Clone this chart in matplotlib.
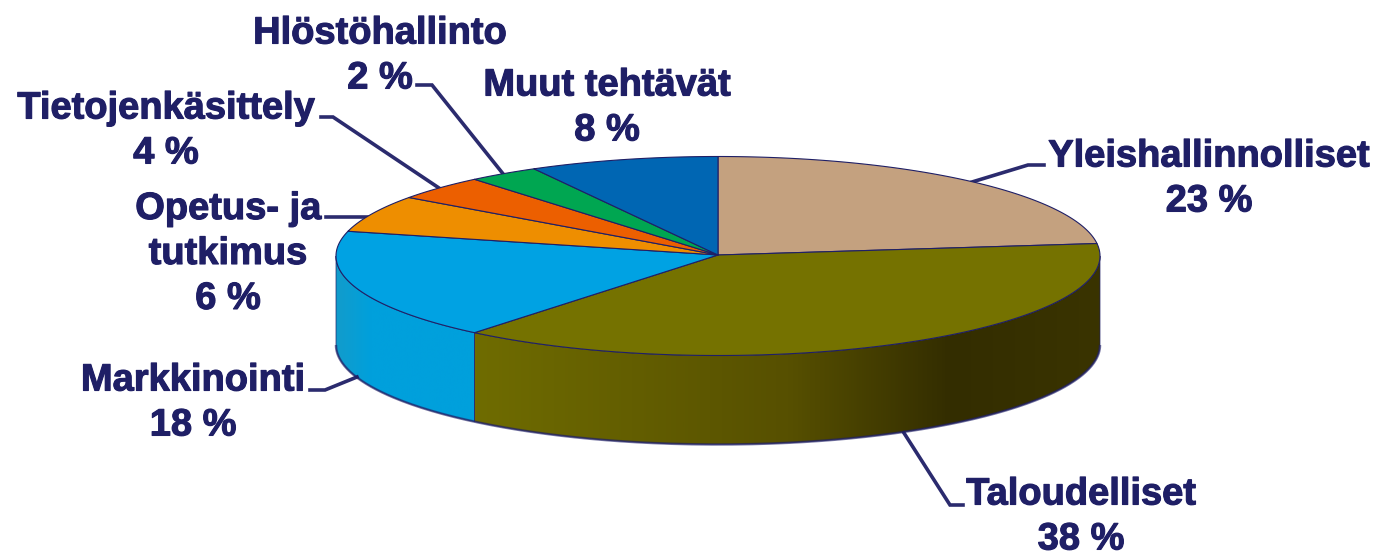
import numpy as np
import matplotlib
matplotlib.use('Agg')
import matplotlib.pyplot as plt
from matplotlib.patches import Polygon
from matplotlib.colors import LinearSegmentedColormap
import matplotlib.patheffects as pe

names = ['Yleishallinnolliset', 'Taloudelliset', 'Markkinointi', 'Opetus- ja\ntutkimus',
         'Tietojenkäsittely', 'Hlöstöhallinto', 'Muut tehtävät']
# drawn size of the slices, the printed labels are rounded differently (2 % slice looks like 3)
slice_sizes = [23, 38, 18, 6, 4, 3, 8]
printed_pct = [23, 38, 18, 6, 4, 2, 8]
top_colors = ['#c4a17f', '#757200', '#00a2e3', '#ee8e00', '#ec5f00', '#00a651', '#0066b3']

text_col = '#1f1f66'

# pie geometry in pixels
cx, cy = 718, 256
rx, ry = 382, 99.5
depth = 89

# label centres and leader lines, pixels
label_pos = [(1209, 179), (1081, 517), (193, 403), (228, 254), (166, 131), (380, 56), (607, 108)]
leaders = [[(972, 182), (1028, 165), (1044, 165)],
           [(904, 433), (950, 505), (963, 505)],
           [(357, 377), (325, 390), (310, 390)],
           [(368, 217), (326, 217)],
           [(439, 188), (333, 117), (321, 117)],
           [(504, 175), (432, 85), (417, 85)]]


def rim(a):
    # a = degrees clockwise from 12 o'clock
    r = np.radians(a)
    return cx + rx * np.sin(r), cy - ry * np.cos(r)


fig = plt.figure(figsize=(13.77, 5.55), dpi=100)
ax = fig.add_axes([0, 0, 1, 1])

edges = np.cumsum([0] + slice_sizes) / sum(slice_sizes) * 360

# side wall, only olive and light blue slices are on the front
olive = LinearSegmentedColormap.from_list('olive', [(0, '#6f6c00'), (0.5, '#575000'), (0.76, '#332d00'), (1, '#3a3400')])
blue = LinearSegmentedColormap.from_list('blue', [(0, '#129ccb'), (0.25, '#00a0dc'), (1, '#00a0dc')])
sides = [(1, olive), (2, blue)]
for i, cmap in sides:
    a = np.linspace(max(edges[i], 90), min(edges[i + 1], 270), 200)
    xs, ys = rim(a)
    pts = np.vstack([np.column_stack([xs, ys]), np.column_stack([xs[::-1], ys[::-1] + depth])])
    poly = Polygon(pts, closed=True, fc='none', ec='none')
    ax.add_patch(poly)
    grad = np.linspace(0, 1, 512).reshape(1, -1)
    im = ax.imshow(grad, cmap=cmap, extent=[xs.min(), xs.max(), cy + ry + depth, cy - ry],
                   aspect='auto', zorder=1)
    im.set_clip_path(poly)
    ax.add_patch(Polygon(pts, closed=True, fc='none', ec=text_col, lw=0.7, alpha=0.7, zorder=2))

# dark lower edge of the wall
a = np.linspace(90, 270, 300)
xs, ys = rim(a)
ax.plot(xs, ys + depth, color=text_col, lw=1.8, alpha=0.6, zorder=2, solid_capstyle='butt')

# top face
for i, col in enumerate(top_colors):
    a = np.linspace(edges[i], edges[i + 1], 120)
    xs, ys = rim(a)
    pts = np.vstack([[cx, cy - 1], np.column_stack([xs, ys])])
    ax.add_patch(Polygon(pts, closed=True, fc=col, ec=text_col, lw=0.8, joinstyle='round', zorder=3))

# leader lines
for line in leaders:
    lx, ly = zip(*line)
    ax.plot(lx, ly, color=text_col, lw=2.6, alpha=0.95, zorder=2.5, solid_joinstyle='miter')

# labels
for name, pct, (x, y) in zip(names, printed_pct, label_pos):
    ax.text(x, y, name + '\n' + str(pct) + ' %', ha='center', va='center', color=text_col,
            fontsize=27.4, family='Liberation Sans', fontweight='bold', linespacing=1.32, zorder=5,
            path_effects=[pe.withStroke(linewidth=0.8, foreground=text_col)])

ax.set_xlim(0, 1377)
ax.set_ylim(555, 0)
ax.axis('off')

fig.savefig('out.png', dpi=100, facecolor='white')
